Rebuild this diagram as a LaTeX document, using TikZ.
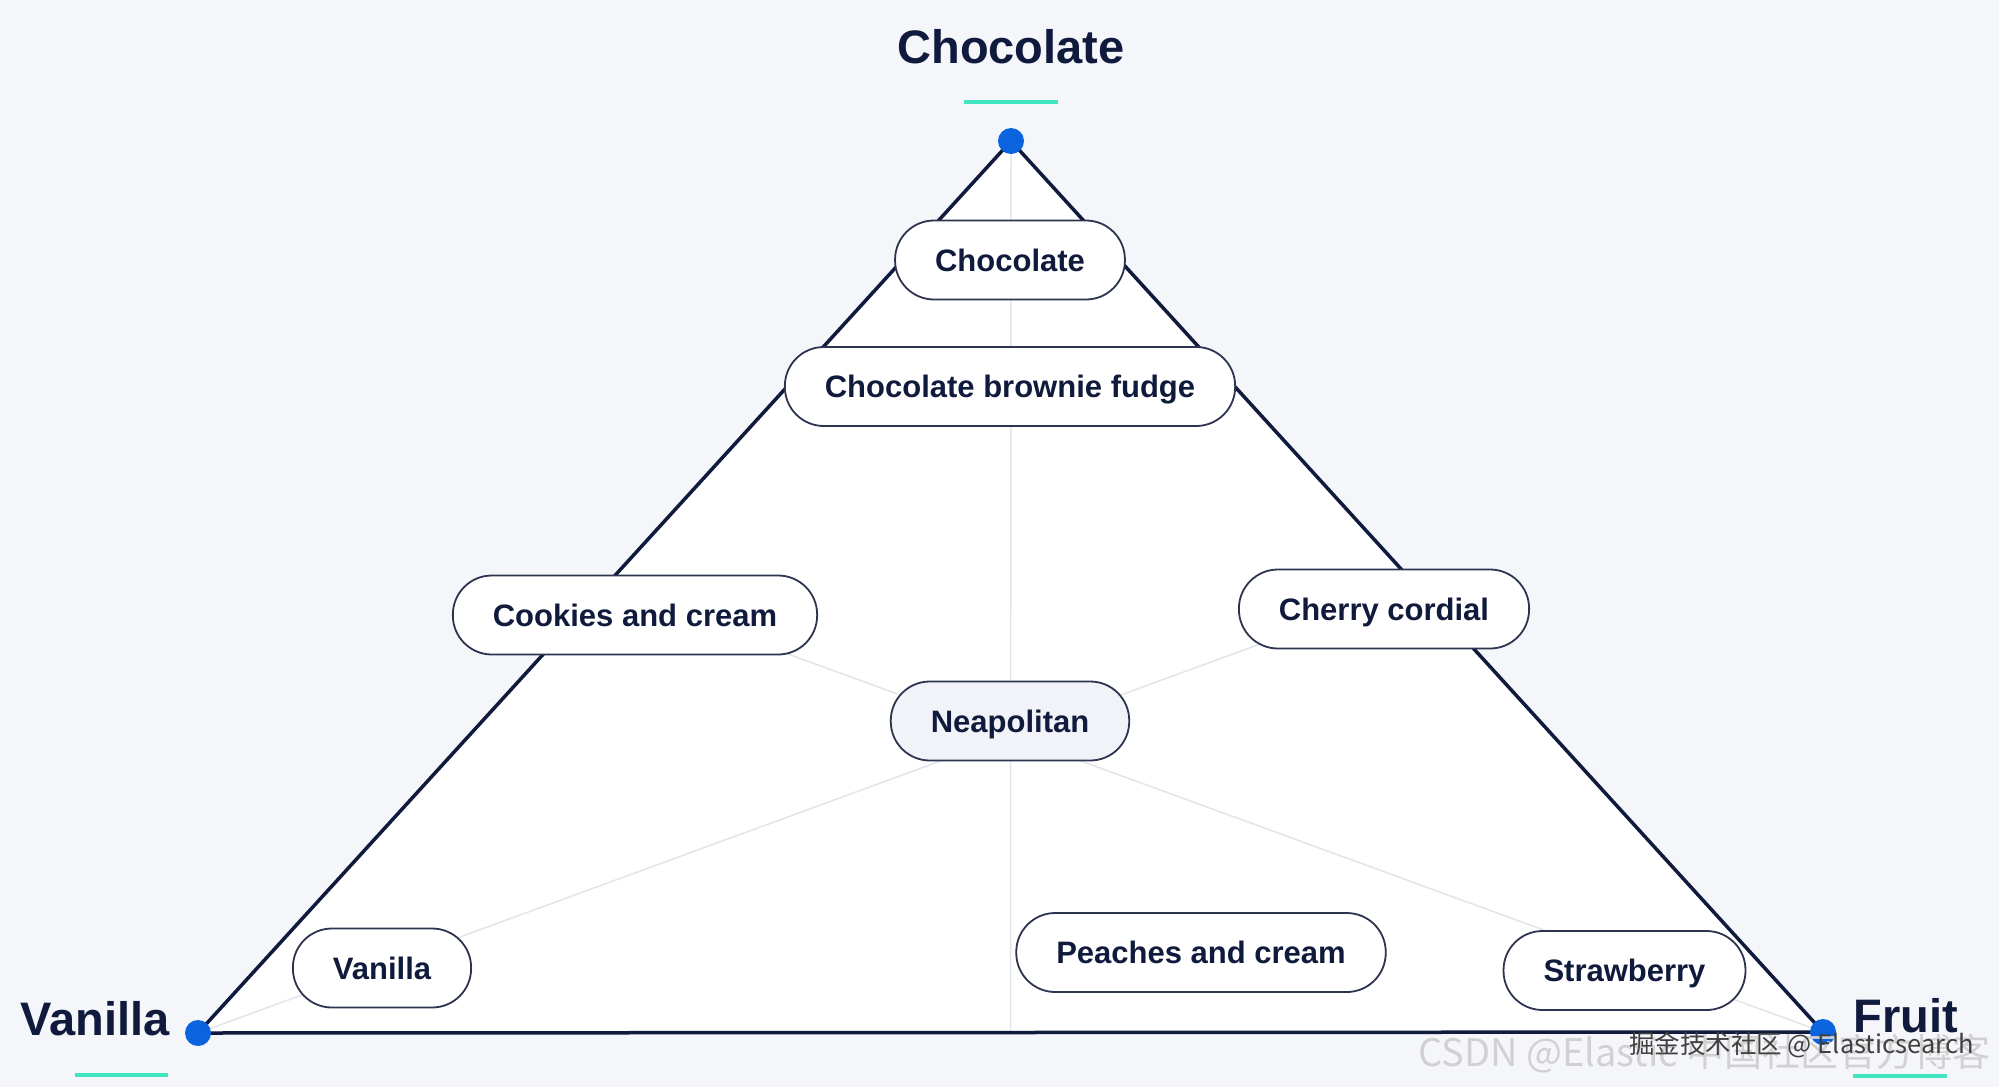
\documentclass[tikz,border=0pt]{standalone}
\usepackage{fontspec}
\setmainfont{Liberation Sans}
\newfontfamily\cjkfont{Noto Sans CJK SC}
\usetikzlibrary{calc}
\definecolor{bgc}{HTML}{F4F6FA}
\definecolor{navy}{HTML}{101A3C}
\definecolor{edgec}{HTML}{2D3450}
\definecolor{dotc}{HTML}{0B64DD}
\definecolor{tealc}{HTML}{3FE6C1}
\definecolor{medc}{HTML}{E3E5E9}
\definecolor{neafill}{HTML}{F1F3F9}
\tikzset{
  flav/.style={draw=edgec, line width=1.8pt, fill=white, rounded corners=39pt,
    minimum height=79pt, inner xsep=40pt, inner ysep=0pt,
    text height=22.2pt, text depth=0pt,
    font=\fontsize{31}{31}\selectfont\bfseries, text=navy},
  corner/.style={font=\fontsize{47}{47}\selectfont\bfseries, text=navy, anchor=base, inner sep=0pt},
  tealbar/.style={draw=tealc, line width=4pt},
  vdot/.style={circle, fill=dotc, minimum size=26pt, inner sep=0pt},
  median/.style={draw=medc, line width=1.5pt},
  tri/.style={draw=navy, line width=3.5pt, line join=round},
  wm/.style={anchor=base west, inner sep=0pt}
}
\begin{document}
\begin{tikzpicture}[x=1pt,y=-1pt]
\fill[bgc] (0,0) rectangle (1999,1087);
\useasboundingbox (0,0) rectangle (1999,1087);
% vertices
\coordinate (T) at (1011,141);
\coordinate (L) at (198,1033);
\coordinate (R) at (1823,1032);
\coordinate (mB) at ($(L)!0.5!(R)$);
\coordinate (mL) at ($(T)!0.5!(L)$);
\coordinate (mR) at ($(T)!0.5!(R)$);
% triangle body
\fill[white] (T) -- (L) -- (R) -- cycle;
% medians
\draw[median] (T) -- (mB);
\draw[median] (L) -- (mR);
\draw[median] (R) -- (mL);
% triangle edges
\draw[tri] (T) -- (L);
\draw[tri] (L) -- (R);
\draw[tri] (R) -- (T);
% flavour nodes
\node[flav] (choc) at (1010,260) {Chocolate};
\node[flav] (cbf) at (1010,386.5) {Chocolate brownie fudge};
\node[flav] (cookies) at (635,615) {Cookies and cream};
\node[flav] (cherry) at (1384,609) {Cherry cordial};
\node[flav, fill=neafill] (neap) at (1010,721) {Neapolitan};
\node[flav] (van) at (382,968) {Vanilla};
\node[flav] (peach) at (1201,952.5) {Peaches and cream};
\node[flav] (straw) at (1624.5,970.5) {Strawberry};
% vertex dots
\node[vdot] (dT) at (T) {};
\node[vdot] (dL) at (L) {};
\node[vdot] (dR) at (R) {};
% corner titles
\node[corner] (tChoc) at (1011,63) {Chocolate};
\node[corner] (tVan) at (95,1035) {Vanilla};
\node[corner] (tFruit) at (1906,1032) {Fruit};
\coordinate (b1a) at (964,102); \coordinate (b1b) at (1058,102);
\coordinate (b2a) at (75,1075); \coordinate (b2b) at (168,1075);
\coordinate (b3a) at (1853,1076); \coordinate (b3b) at (1947,1076);
\draw[tealbar] (b1a) -- (b1b);
\draw[tealbar] (b2a) -- (b2b);
\draw[tealbar] (b3a) -- (b3b);
% watermark
\node[wm, text=black!18, font=\cjkfont\fontsize{38}{38}\selectfont] (wm1) at (1418,1066) {CSDN @Elastic 中国社区官方博客};
\node[wm, text=black!75, font=\cjkfont\fontsize{25.5}{25.5}\selectfont] (wm2) at (1629,1053) {掘金技术社区 @ Elasticsearch};
\end{tikzpicture}
\end{document}
